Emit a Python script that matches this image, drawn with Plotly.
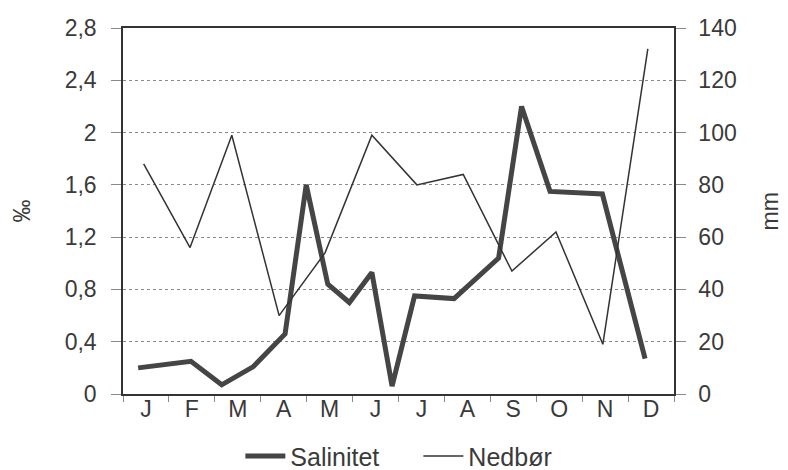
import plotly.graph_objects as go

# Month labels (tick labels on the x axis)
months = ["J", "F", "M", "A", "M", "J", "J", "A", "S", "O", "N", "D"]

# Salinity samples: position in fractional months from 1 Jan, value in per mille
sal_pos = [0.33, 1.48, 2.15, 2.84, 3.53, 3.99, 4.46, 4.93, 5.42, 5.86,
           6.35, 7.21, 8.18, 8.68, 9.30, 10.44, 11.37]
sal_val = [0.20, 0.25, 0.07, 0.21, 0.46, 1.60, 0.84, 0.70, 0.93, 0.06,
           0.75, 0.73, 1.04, 2.20, 1.55, 1.53, 0.27]

# Monthly precipitation (mm), plotted at its position in the month
prec_pos = [0.45, 1.46, 2.37, 3.40, 4.40, 5.42, 6.40, 7.41, 8.47, 9.43, 10.45, 11.43]
prec_val = [88, 56, 99, 30, 54, 99, 80, 84, 47, 62, 19, 132]

# Axis ticks
left_ticks = [0, 0.4, 0.8, 1.2, 1.6, 2.0, 2.4, 2.8]
left_text = ["0", "0,4", "0,8", "1,2", "1,6", "2", "2,4", "2,8"]
right_ticks = [0, 20, 40, 60, 80, 100, 120, 140]

FONT = "Liberation Sans, Arial, sans-serif"
TXT = "#3a3a3a"
GRID = "#8a8a8a"
AX = "#333333"

fig = go.Figure()
fig.add_trace(go.Scatter(
    x=sal_pos, y=sal_val, mode="lines", name="Salinitet",
    line=dict(color="#454545", width=5), yaxis="y"))
fig.add_trace(go.Scatter(
    x=prec_pos, y=prec_val, mode="lines", name="Nedbør",
    line=dict(color="#333333", width=1.5), yaxis="y2"))

# The page body has an 8px margin, so the figure is 8px smaller each way
fig.update_layout(
    template="none",
    width=780, height=462,
    margin=dict(l=115, r=114, t=20, b=76, autoexpand=False),
    paper_bgcolor="white", plot_bgcolor="white",
    font=dict(family=FONT, size=23, color=TXT),
    showlegend=True,
    legend=dict(orientation="h", x=0.213, xanchor="left",
                yref="container", y=0.03, yanchor="middle",
                font=dict(size=25, color=TXT),
                itemwidth=40, entrywidth=123, bgcolor="rgba(0,0,0,0)"),
    xaxis=dict(
        range=[0, 12], showgrid=False, zeroline=False, automargin=False,
        tickvals=[i + 0.5 for i in range(12)], ticktext=months, ticks="",
        ticklabelstandoff=-6,
        tickfont=dict(size=23, color=TXT),
        showline=True, linecolor=AX, linewidth=1.5, mirror=True,
        minor=dict(tickvals=list(range(13)), ticks="outside", ticklen=6,
                   tickcolor=GRID, tickwidth=1, showgrid=False),
    ),
    yaxis=dict(
        range=[0, 2.8], tickvals=left_ticks, ticktext=left_text,
        showgrid=True, gridcolor=GRID, griddash="dot", gridwidth=1,
        zeroline=False, showline=True, linecolor=AX, linewidth=1.5,
        automargin=False,
        ticks="outside", ticklen=10, tickcolor=GRID, ticklabelstandoff=10,
        tickfont=dict(size=23, color=TXT),
    ),
    yaxis2=dict(
        range=[0, 140], tickvals=right_ticks, overlaying="y", side="right",
        showgrid=False, zeroline=False, showline=True, linecolor=AX,
        automargin=False,
        linewidth=1.5, ticks="outside", ticklen=10, tickcolor=GRID,
        ticklabelstandoff=8, tickfont=dict(size=23, color=TXT),
    ),
    annotations=[
        dict(text="‰", xref="paper", yref="paper", x=-0.184, y=0.5,
             textangle=-90, showarrow=False, font=dict(size=23, color=TXT),
             xanchor="center", yanchor="middle"),
        dict(text="mm", xref="paper", yref="paper", x=1.175, y=0.5,
             textangle=-90, showarrow=False, font=dict(size=23, color=TXT),
             xanchor="center", yanchor="middle"),
    ],
)

fig.write_html("out.html")
